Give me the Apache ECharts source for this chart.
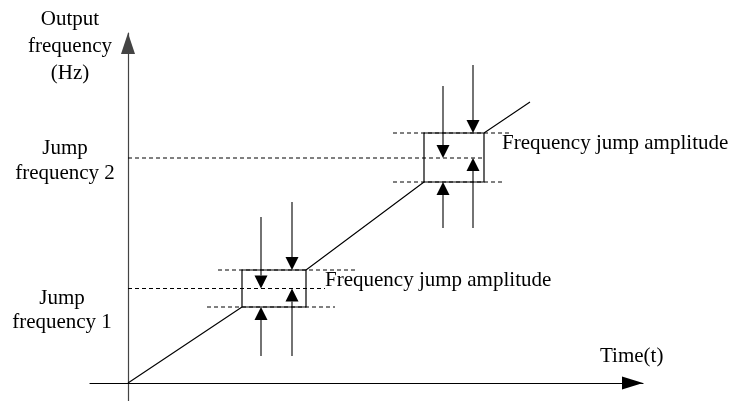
<!DOCTYPE html>
<html>
<head>
<meta charset="utf-8">
<script src="https://cdn.jsdelivr.net/npm/echarts@6/dist/echarts.min.js"></script>
<style>
html,body{margin:0;padding:0;background:#fff;}
#chart{width:734px;height:401px;}
</style>
</head>
<body>
<div id="chart"></div>
<script>
// ---- data (time t, output frequency f) ----
const rampSegments = [
  [[0, 0], [114, 76]],
  [[178, 113], [296, 201]],
  [[356, 250], [402, 281]]
];
const jumpFrequencies = [94.5, 225];          // jump frequency 1, 2
const jumpBandLow = [76, 201];                // lower edge of jump band
const jumpBandHigh = [113, 250];              // upper edge of jump band
const bandTimeStart = [114, 296];
const bandTimeEnd = [178, 356];
// dashed guides: [tStart, tEnd, f]
const guideLines = [
  [0, 197, 94.5], [90, 227, 113], [79, 207, 76],
  [0, 356, 225], [265, 382, 250], [265, 375, 201]
];
// arrows: [t, fFrom, fTo]
const arrowList = [
  [133, 166, 94.5], [164, 181, 113], [133, 27, 76], [164, 27, 94.5],
  [315, 297, 225], [345, 318, 250], [315, 155, 201], [345, 155, 225]
];
const textLabels = {
  yTitle: ['Output', 'frequency', '(Hz)'],
  jump2: ['Jump', 'frequency 2'],
  jump1: ['Jump', 'frequency 1'],
  amplitude: 'Frequency jump amplitude',
  xTitle: 'Time(t)'
};

// ---- build series data ----
const rampData = [];
rampSegments.forEach((seg, i) => {
  if (i > 0) rampData.push(['-', '-']);
  seg.forEach(p => rampData.push(p));
});
const boxData = jumpFrequencies.map((f, i) => [bandTimeStart[i], bandTimeEnd[i], jumpBandLow[i], jumpBandHigh[i]]);

const FONT = '"Liberation Serif", "Times New Roman", serif';
function txt(x, y, s, align) {
  return {
    type: 'text', x: x, y: y,
    style: { text: s, font: '21px ' + FONT, fill: '#000', align: align || 'center', verticalAlign: 'middle' }
  };
}

const chart = echarts.init(document.getElementById('chart'));
chart.setOption({
  animation: false,
  backgroundColor: '#fff',
  grid: { left: 90, right: 91, top: 33, bottom: 0, containLabel: false },
  xAxis: {
    type: 'value', min: -38, max: 515,
    axisLine: { onZero: true, lineStyle: { color: '#000', width: 1.2 },
      symbol: ['none', 'triangle'], symbolSize: [13, 21], symbolOffset: [0, -10.5] },
    axisTick: { show: false }, axisLabel: { show: false }, splitLine: { show: false }
  },
  yAxis: {
    type: 'value', min: -18, max: 350,
    axisLine: { onZero: true, lineStyle: { color: '#444', width: 1.2 },
      symbol: ['none', 'triangle'], symbolSize: [14, 21], symbolOffset: [0, -10.5] },
    axisTick: { show: false }, axisLabel: { show: false }, splitLine: { show: false }
  },
  series: [
    {
      type: 'line', data: rampData, symbol: 'none', connectNulls: false,
      lineStyle: { color: '#000', width: 1.1 }, silent: true
    },
    {
      type: 'custom', data: boxData, silent: true,
      renderItem: function (params, api) {
        const p0 = api.coord([api.value(0), api.value(3)]);
        const p1 = api.coord([api.value(1), api.value(2)]);
        return { type: 'rect', shape: { x: p0[0], y: p0[1], width: p1[0] - p0[0], height: p1[1] - p0[1] },
          style: { fill: 'none', stroke: '#000', lineWidth: 1.2 } };
      }
    },
    {
      type: 'custom', data: guideLines, silent: true,
      renderItem: function (params, api) {
        const a = api.coord([api.value(0), api.value(2)]);
        const b = api.coord([api.value(1), api.value(2)]);
        return { type: 'line', shape: { x1: a[0], y1: a[1], x2: b[0], y2: b[1] },
          style: { stroke: '#000', lineWidth: 1, lineDash: [4, 3] } };
      }
    },
    {
      type: 'custom', data: arrowList, silent: true,
      renderItem: function (params, api) {
        const from = api.coord([api.value(0), api.value(1)]);
        const to = api.coord([api.value(0), api.value(2)]);
        const dir = to[1] > from[1] ? 1 : -1;
        const headLen = 13, headW = 6.5;
        const baseY = to[1] - dir * headLen;
        return { type: 'group', children: [
          { type: 'line', shape: { x1: from[0], y1: from[1], x2: to[0], y2: baseY },
            style: { stroke: '#000', lineWidth: 1.1 } },
          { type: 'polygon', shape: { points: [[to[0], to[1]], [to[0] - headW, baseY], [to[0] + headW, baseY]] },
            style: { fill: '#000' } }
        ] };
      }
    }
  ],
  graphic: [
    txt(70, 19, textLabels.yTitle[0]),
    txt(70, 46, textLabels.yTitle[1]),
    txt(70, 73, textLabels.yTitle[2]),
    txt(65, 148, textLabels.jump2[0]),
    txt(65, 173, textLabels.jump2[1]),
    txt(62, 298, textLabels.jump1[0]),
    txt(62, 322, textLabels.jump1[1]),
    txt(325, 280, textLabels.amplitude, 'left'),
    txt(502, 143, textLabels.amplitude, 'left'),
    txt(600, 356, textLabels.xTitle, 'left')
  ]
});
</script>
</body>
</html>
